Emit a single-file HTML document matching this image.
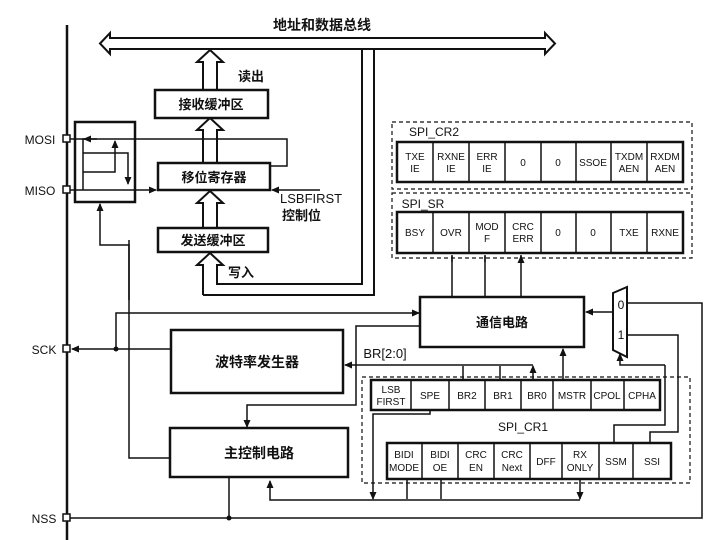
<!DOCTYPE html>
<html><head><meta charset="utf-8"><style>body{margin:0;background:#fff}svg{display:block}text{font-family:"Liberation Sans","Noto Sans CJK SC",sans-serif;fill:#111}</style></head><body>
<svg width="720" height="540" viewBox="0 0 720 540" xmlns="http://www.w3.org/2000/svg">
<defs><marker id="a" markerWidth="8" markerHeight="8" refX="7" refY="4" orient="auto" markerUnits="userSpaceOnUse"><path d="M0,0.5 L8,4 L0,7.5z" fill="#111"/></marker></defs>
<g stroke="#111" fill="none" stroke-width="1.5">
<line x1="67" y1="25" x2="67" y2="540" stroke-width="2.5"/>
<path d="M100,43.5 L110,33 L110,38 L545,38 L545,33 L555,43.5 L545,54 L545,49 L220,49 L110,49 L110,54z" stroke-width="2" fill="#fff"/>
<path d="M203,90 L203,62 L197,62 L210,50 L223,62 L217,62 L217,90" stroke-width="2" fill="#fff"/>
<path d="M203,163 L203,130 L197,130 L210,118 L223,130 L217,130 L217,163" stroke-width="2" fill="#fff"/>
<path d="M203,228 L203,203 L197,203 L210,191 L223,203 L217,203 L217,228" stroke-width="2" fill="#fff"/>
<path d="M203,295 L203,265 L197,265 L210,253 L223,265 L217,265 L217,284 L362,284 L362,50 M203,295 L374,295 L374,49" stroke-width="2"/>
<rect x="155" y="90" width="113" height="28" stroke-width="2.5" fill="#fff"/>
<rect x="158" y="163" width="112" height="27" stroke-width="2.5" fill="#fff"/>
<rect x="158" y="228" width="110" height="24" stroke-width="2.5" fill="#fff"/>
<rect x="75" y="122" width="60" height="80" stroke-width="2.5"/>
<rect x="63" y="135" width="7" height="7" fill="#fff"/>
<rect x="63" y="186" width="7" height="7" fill="#fff"/>
<path d="M70,139 L287,139 L287,166 L270,166"/>
<path d="M97,139 L83,139 L83,190"/>
<line x1="90" y1="139" x2="84" y2="139" marker-end="url(#a)"/>
<path d="M83,153 L128,153 L128,184" marker-end="url(#a)"/>
<path d="M83,172 L115,172 L115,141" marker-end="url(#a)"/>
<path d="M70,190 L156,190" marker-end="url(#a)"/>
<path d="M320,190 L272,190" marker-end="url(#a)"/>
<path d="M129,300 L129,245 L100,245 L100,204" marker-end="url(#a)"/>
<path d="M129,240 L129,458 L170,458"/>
<rect x="392" y="122" width="300" height="67" stroke-dasharray="4,3" stroke-width="1.2"/>
<rect x="397" y="142" width="286" height="40" stroke-width="2.5"/>
<path d="M433,142v40M469,142v40M505,142v40M541,142v40M576,142v40M611,142v40M647,142v40"/>
<rect x="392" y="193" width="300" height="65" stroke-dasharray="4,3" stroke-width="1.2"/>
<rect x="397" y="212" width="286" height="41" stroke-width="2.5"/>
<path d="M433,212v41M469,212v41M505,212v41M541,212v41M576,212v41M611,212v41M647,212v41"/>
<path d="M452,297V255M485,297V255M521,297V255"/>
<path d="M452,262V256M485,262V256M521,262V256" marker-end="url(#a)"/>
<rect x="420" y="297" width="164" height="50" stroke-width="2.5"/>
<path d="M613,293 L627,287 L627,357 L613,350z" stroke-width="2"/>
<path d="M613,312 L586,312" marker-end="url(#a)"/>
<path d="M627,303 L702,303 L702,518 L70,518"/>
<path d="M627,335 L678,335 L678,432 L650,432 L650,443"/>
<path d="M665,365 L620,365 L620,354" marker-end="url(#a)"/>
<path d="M665,365 L665,425 L614,425 L614,443"/>
<rect x="171" y="330" width="172" height="63" stroke-width="2.5"/>
<rect x="63" y="345" width="7" height="7" fill="#fff"/>
<path d="M171,349 L72,349" marker-end="url(#a)"/>
<path d="M116,349 L116,313 L419,313" marker-end="url(#a)"/>
<path d="M533,365 L345,365" marker-end="url(#a)"/>
<path d="M463,380V366M500,380V366M533,380V366" marker-end="url(#a)"/>
<path d="M563,380V349" marker-end="url(#a)"/>
<path d="M420,326 L356,326 L356,405 L247,405 L247,427" marker-end="url(#a)"/>
<rect x="170" y="428" width="178" height="49" stroke-width="2.5"/>
<path d="M229,477 L229,518"/>
<rect x="63" y="514" width="7" height="7" fill="#fff"/>
<path d="M580,500 L270,500 L270,481" marker-end="url(#a)"/>
<path d="M430,410 L430,414 L373,414 L373,499" marker-end="url(#a)"/>
<path d="M407,479V499M441,479V499M580,479V499" marker-end="url(#a)"/>
<rect x="362" y="377" width="328" height="106" stroke-dasharray="4,3" stroke-width="1.2"/>
<rect x="371" y="380" width="289" height="30" stroke-width="2.5"/>
<path d="M411,380v30M449,380v30M485,380v30M521,380v30M553,380v30M591,380v30M624,380v30"/>
<rect x="387" y="443" width="284" height="36" stroke-width="2.5"/>
<path d="M422,443v36M458,443v36M494,443v36M530,443v36M562,443v36M599,443v36M633,443v36"/>
</g>
<circle cx="116" cy="349" r="2.5" fill="#111"/>
<circle cx="229" cy="518" r="2.5" fill="#111"/>
<g font-size="13" text-anchor="middle" font-weight="bold">
<text x="322" y="30" font-size="14">地址和数据总线</text>
<text x="238" y="81" text-anchor="start">读出</text>
<text x="211" y="109">接收缓冲区</text>
<text x="214" y="182">移位寄存器</text>
<text x="213" y="245">发送缓冲区</text>
<text x="228" y="277" text-anchor="start">写入</text>
<text x="502" y="327">通信电路</text>
<text x="257" y="367" font-size="14">波特率发生器</text>
<text x="259" y="458" font-size="14">主控制电路</text>
<text x="282" y="220" text-anchor="start">控制位</text>
</g>
<g font-size="12" text-anchor="middle">
<text x="280" y="203" text-anchor="start" font-size="13">LSBFIRST</text>
<text x="40" y="144">MOSI</text>
<text x="40" y="195">MISO</text>
<text x="44" y="354">SCK</text>
<text x="44" y="523">NSS</text>
<text x="385" y="358" font-size="13">BR[2:0]</text>
<text x="434" y="136">SPI_CR2</text>
<text x="423" y="208">SPI_SR</text>
<text x="523" y="431">SPI_CR1</text>
<text x="621" y="309">0</text><text x="621" y="339">1</text>
</g>
<g font-size="10" text-anchor="middle">
<text x="415" y="160">TXE</text><text x="415" y="172">IE</text>
<text x="451" y="160">RXNE</text><text x="451" y="172">IE</text>
<text x="487" y="160">ERR</text><text x="487" y="172">IE</text>
<text x="523" y="166">0</text><text x="558" y="166">0</text>
<text x="593" y="166">SSOE</text>
<text x="629" y="160">TXDM</text><text x="629" y="172">AEN</text>
<text x="665" y="160">RXDM</text><text x="665" y="172">AEN</text>
<text x="415" y="236">BSY</text><text x="451" y="236">OVR</text>
<text x="487" y="230">MOD</text><text x="487" y="242">F</text>
<text x="523" y="230">CRC</text><text x="523" y="242">ERR</text>
<text x="558" y="236">0</text><text x="593" y="236">0</text>
<text x="629" y="236">TXE</text><text x="665" y="236">RXNE</text>
<text x="391" y="393">LSB</text><text x="391" y="405">FIRST</text>
<text x="430" y="399">SPE</text><text x="467" y="399">BR2</text><text x="503" y="399">BR1</text>
<text x="537" y="399">BR0</text><text x="572" y="399">MSTR</text><text x="607" y="399">CPOL</text><text x="642" y="399">CPHA</text>
<text x="404" y="458">BIDI</text><text x="404" y="471">MODE</text>
<text x="440" y="458">BIDI</text><text x="440" y="471">OE</text>
<text x="476" y="458">CRC</text><text x="476" y="471">EN</text>
<text x="512" y="458">CRC</text><text x="512" y="471">Next</text>
<text x="546" y="465">DFF</text>
<text x="580" y="458">RX</text><text x="580" y="471">ONLY</text>
<text x="616" y="465">SSM</text><text x="652" y="465">SSI</text>
</g>
</svg>
</body></html>
